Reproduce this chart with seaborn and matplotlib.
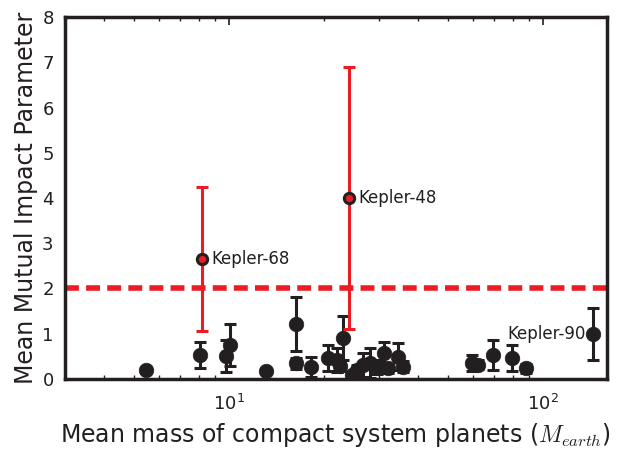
import matplotlib
matplotlib.use("Agg")
import matplotlib.pyplot as plt
import seaborn as sns
import pandas as pd
import numpy as np

# Data
mass = [5.43, 8.09, 9.78, 10.07, 13.1, 16.3, 16.3, 18.3, 20.7, 22.0, 23.1, 22.5,
        24.6, 25.6, 26.8, 28.1, 29.5, 31.2, 32.2, 34.6, 35.9, 59.3, 62.2, 69.5,
        79.4, 88.1]
impact = [0.20, 0.53, 0.51, 0.75, 0.18, 1.22, 0.35, 0.27, 0.46, 0.42, 0.90, 0.28,
          0.09, 0.20, 0.31, 0.35, 0.27, 0.57, 0.24, 0.49, 0.27, 0.35, 0.31, 0.53,
          0.46, 0.24]
impact_err = [0.06, 0.29, 0.36, 0.46, 0.05, 0.60, 0.12, 0.22, 0.29, 0.26, 0.49, 0.10,
              0.05, 0.10, 0.26, 0.33, 0.15, 0.25, 0.10, 0.30, 0.12, 0.18, 0.10, 0.33,
              0.29, 0.10]

special_names = ["Kepler-68", "Kepler-48"]
special_mass = [8.2, 24.1]
special_impact = [2.65, 4.0]
special_err = [1.6, 2.9]

k90_name = "Kepler-90"
k90_mass = [144.0]
k90_impact = [0.99]
k90_err = [0.58]

threshold = 2.0

df = pd.DataFrame({"mass": mass + k90_mass, "impact": impact + k90_impact,
                   "err": impact_err + k90_err})
sdf = pd.DataFrame({"mass": special_mass, "impact": special_impact, "err": special_err})

sns.set_style("white")
plt.rcParams["font.family"] = ["DejaVu Sans"]
plt.rcParams["mathtext.fontset"] = "cm"

fig, ax = plt.subplots(figsize=(6.17, 4.49), dpi=100)
fig.subplots_adjust(left=0.105, right=0.984, top=0.962, bottom=0.156)

dark = "#231f20"
red = "#ec1c24"

ax.errorbar(df["mass"], df["impact"], yerr=df["err"], fmt="none", ecolor=dark,
            elinewidth=2.2, capsize=4, capthick=2.2, zorder=2)
sns.scatterplot(data=df, x="mass", y="impact", ax=ax, color=dark, s=110,
                edgecolor=dark, linewidth=0.5, zorder=3, legend=False)

ax.errorbar(sdf["mass"], sdf["impact"], yerr=sdf["err"], fmt="none", ecolor=red,
            elinewidth=2.2, capsize=4, capthick=2.2, zorder=4)
sns.scatterplot(data=sdf, x="mass", y="impact", ax=ax, color=red, s=55,
                edgecolor=dark, linewidth=2.2, zorder=5, legend=False)

ax.axhline(threshold, color=red, lw=4, ls=(0, (2.5, 1.3)), zorder=1)

for n, x, y in zip(special_names, special_mass, special_impact):
    ax.annotate(n, (x, y), xytext=(7, 0), textcoords="offset points",
                va="center", ha="left", fontsize=12, color=dark)
ax.annotate(k90_name, (k90_mass[0], k90_impact[0]), xytext=(-5, 0),
            textcoords="offset points", va="center", ha="right", fontsize=12,
            color=dark)

ax.set_xscale("log")
ax.set_xlim(3.0, 160)
ax.set_ylim(0, 8)
ax.set_yticks(range(0, 9))
ax.set_xlabel(r"Mean mass of compact system planets ($M_{earth}$)", fontsize=17,
              color=dark, labelpad=5)
ax.set_ylabel("Mean Mutual Impact Parameter", fontsize=17, color=dark,
              labelpad=3)

for s in ax.spines.values():
    s.set_visible(True)
    s.set_linewidth(2.5)
    s.set_color(dark)

ax.tick_params(axis="both", which="major", direction="in", length=6, width=1.2,
               colors=dark, labelsize=13, top=True, right=False, pad=8)
ax.tick_params(axis="x", which="major", pad=11)
ax.tick_params(axis="x", which="minor", direction="in", length=3, width=1,
               colors=dark, top=True, bottom=True)
ax.tick_params(axis="y", which="both", right=False)
for lab in ax.get_xticklabels() + ax.get_yticklabels():
    lab.set_color(dark)

fig.savefig("out.png", dpi=100)
